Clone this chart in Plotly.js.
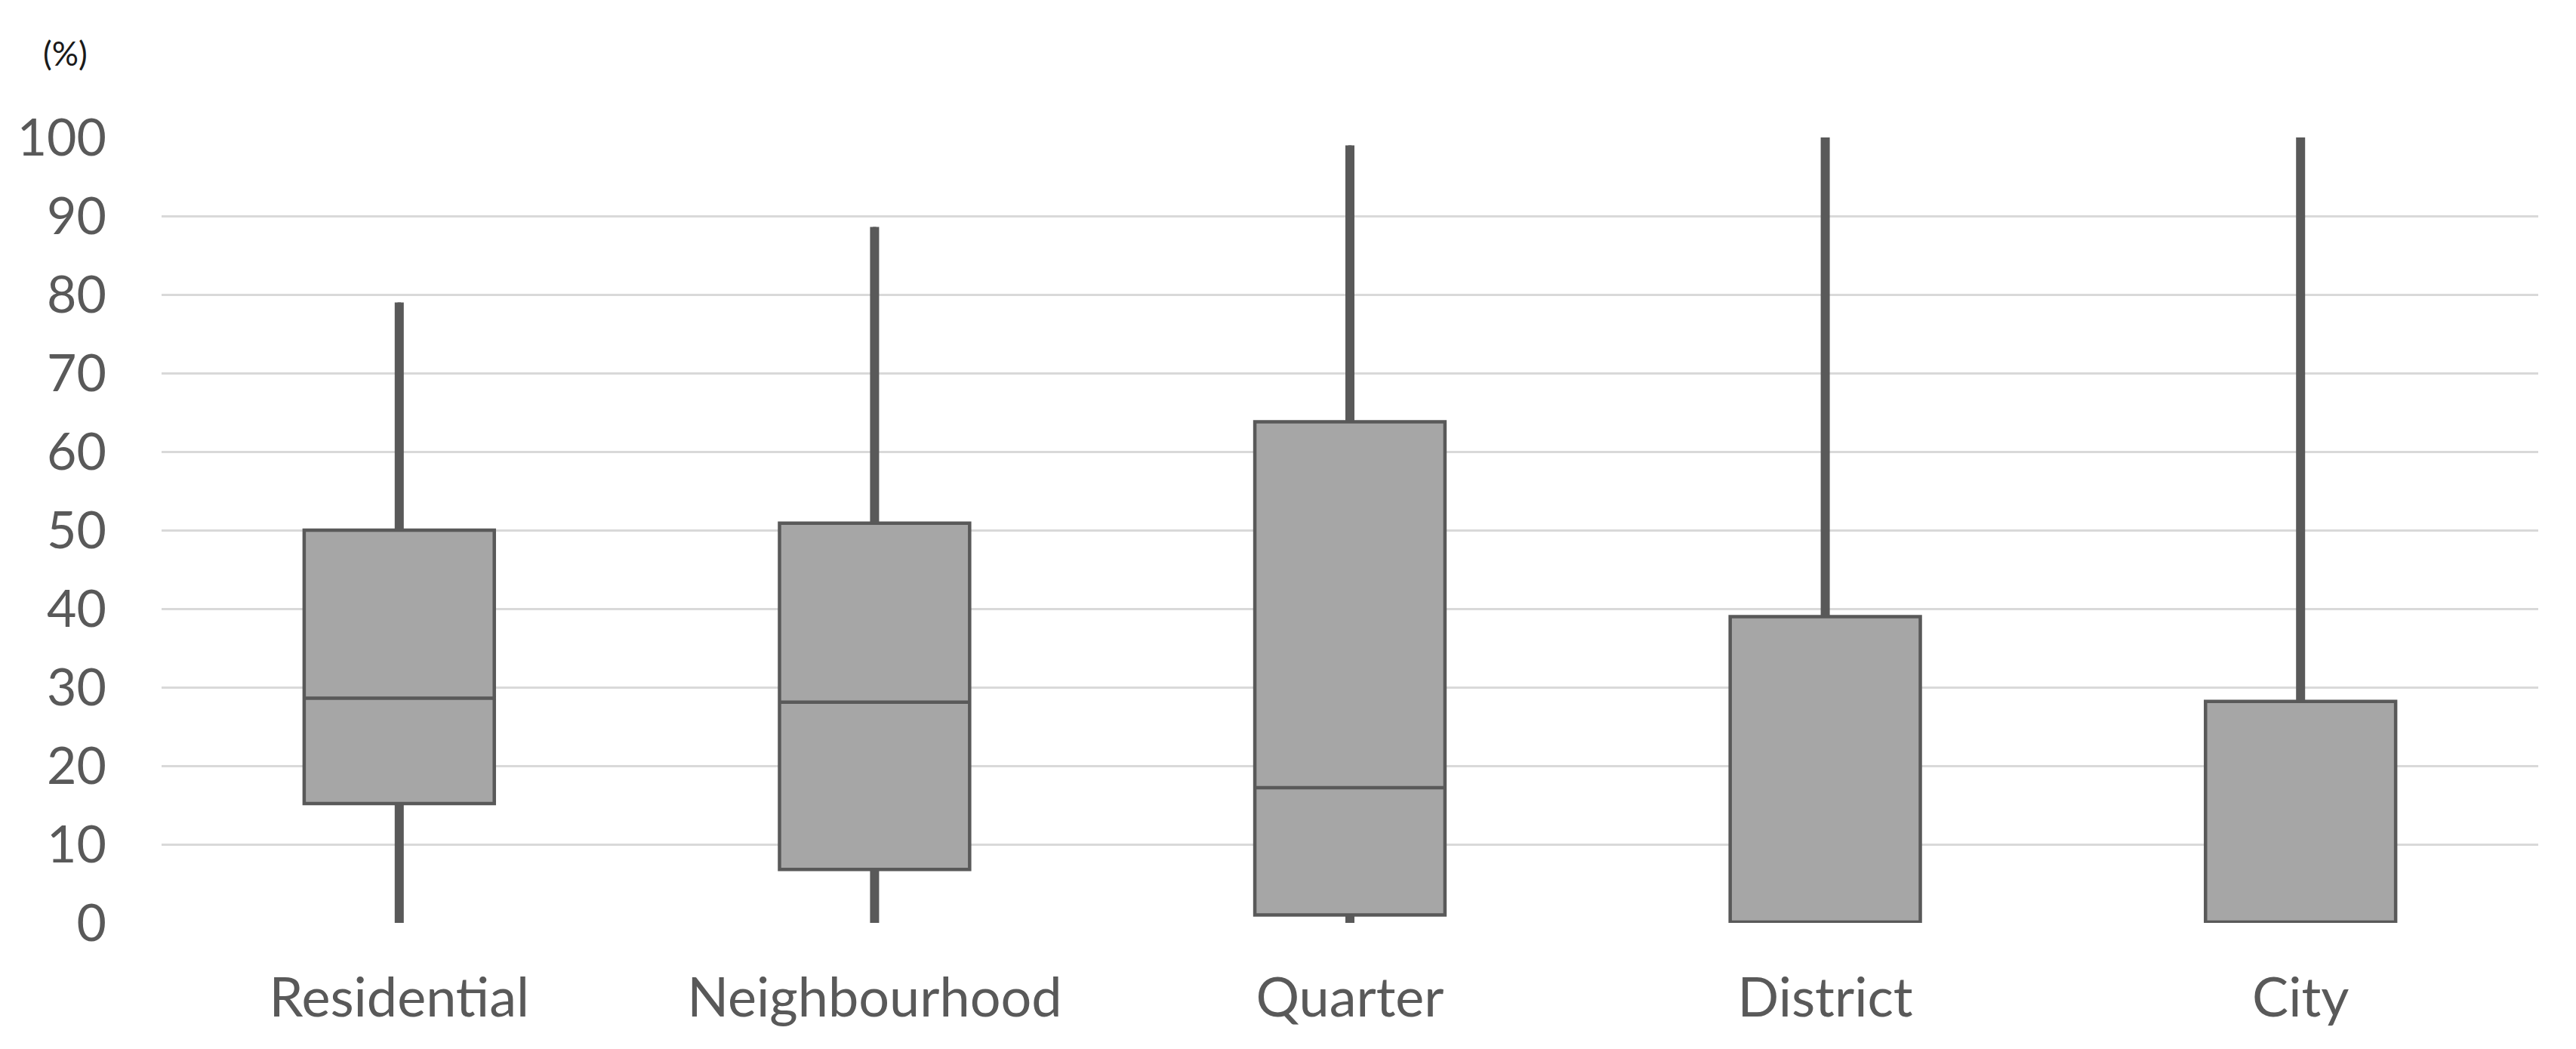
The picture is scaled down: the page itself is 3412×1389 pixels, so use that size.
<!DOCTYPE html>
<html>
<head>
<meta charset="utf-8">
<script src="https://cdn.plot.ly/plotly-3.0.1.min.js"></script>
<style>
  html, body { margin: 0; padding: 0; background: #ffffff; }
  #chart { width: 3412px; height: 1389px; }
</style>
</head>
<body>
<div id="chart"></div>
<script>
// Categories (spatial scale)
const categories = ["Residential", "Neighbourhood", "Quarter", "District", "City"];
// Box statistics (%)
const minimum = [0, 0, 0, 0, 0];
const q1      = [15.2, 6.8, 1.0, 0, 0];
const median  = [28.6, 28.1, 17.2, 0, 0];
const q3      = [50.0, 50.9, 63.8, 39.0, 28.2];
const maximum = [79.0, 88.6, 99.0, 100, 100];
// Y-axis tick labels
const yTicks = [0, 10, 20, 30, 40, 50, 60, 70, 80, 90, 100];
const yUnit = "(%)";

const dark = "#595959";

// Whisker segments built from the data arrays
const wx = [], wy = [];
categories.forEach((c, i) => {
  wx.push(c, c, null, c, c, null);
  wy.push(q3[i], maximum[i], null, q1[i], minimum[i], null);
});

const boxTrace = {
  type: "box",
  x: categories,
  q1: q1,
  median: median,
  q3: q3,
  lowerfence: minimum,
  upperfence: maximum,
  width: 0.4,
  whiskerwidth: 0,
  boxpoints: false,
  fillcolor: "#a6a6a6",
  line: { color: dark, width: 4.5 },
  hoverinfo: "skip",
  showlegend: false
};

const whiskerTrace = {
  type: "scatter",
  mode: "lines",
  x: wx,
  y: wy,
  line: { color: dark, width: 12 },
  cliponaxis: false,
  hoverinfo: "skip",
  showlegend: false
};

const layout = {
  width: 3412,
  height: 1389,
  margin: { l: 214, r: 50, t: 182, b: 167 },
  paper_bgcolor: "#ffffff",
  plot_bgcolor: "#ffffff",
  showlegend: false,
  font: { family: "Lato, 'Open Sans', sans-serif", color: dark, size: 68 },
  xaxis: {
    type: "category",
    categoryorder: "array",
    categoryarray: categories,
    range: [-0.5, categories.length - 0.5],
    showgrid: false,
    zeroline: false,
    showline: false,
    ticks: "",
    ticklabelstandoff: 51,
    tickfont: { family: "Lato, sans-serif", size: 72, color: dark },
    fixedrange: true
  },
  yaxis: {
    range: [0, 100],
    tickmode: "array",
    tickvals: yTicks,
    ticktext: yTicks.map(String),
    showgrid: true,
    gridcolor: "#d9d9d9",
    gridwidth: 3,
    zeroline: false,
    showline: false,
    ticks: "",
    ticklabelstandoff: 72,
    tickfont: { family: "Lato, sans-serif", size: 68, color: dark },
    fixedrange: true
  },
  annotations: [{
    xref: "paper", yref: "paper",
    x: -0.0406, y: 1.108,
    xanchor: "center", yanchor: "middle",
    text: yUnit,
    showarrow: false,
    font: { family: "Lato, sans-serif", size: 44, color: "#1a1a1a" }
  }]
};

Plotly.newPlot("chart", [boxTrace, whiskerTrace], layout, { staticPlot: true, displayModeBar: false });
</script>
</body>
</html>
